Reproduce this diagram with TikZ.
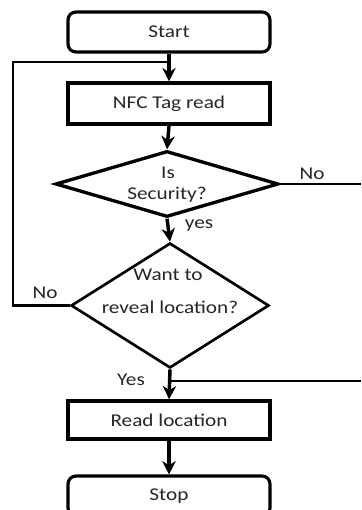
\documentclass[tikz,border=0pt]{standalone}
\usepackage{fontspec}
\setmainfont{Carlito}[FakeStretch=1.18]
\usetikzlibrary{shapes.geometric,arrows.meta}
\begin{document}
\begin{tikzpicture}[x=0.75pt,y=-0.75pt,
  every node/.style={font=\fontsize{13.5pt}{16pt}\selectfont, text=black!85},
  procbox/.style={draw=black, line width=2.6pt, minimum width=151.5pt, inner sep=0pt},
  termbox/.style={procbox, rounded corners=6pt, line width=2.3pt},
  decbox/.style={draw=black, diamond, inner sep=0pt},
  flowarrow/.style={draw=black, line width=2.6pt, -{Stealth[length=10pt,width=10pt]}},
  loopline/.style={draw=black, line width=1.9pt},
  stubline/.style={draw=black, line width=1.5pt},
  lbl/.style={inner sep=0pt}
]
\useasboundingbox (0,0) rectangle (361,510);
\clip (0,0) rectangle (361,510);
\fill[white] (0,0) rectangle (361,510);

\node[termbox, minimum height=30pt] (start) at (169,32) {Start};
\node[procbox, minimum height=30.75pt] (nfc) at (169,103.5) {NFC Tag read};
\node[decbox, line width=2.5pt, minimum width=167.25pt, minimum height=49.5pt] (d1) at (167,184) {};
\node[lbl] (t1a) at (168,173) {Is};
\node[lbl] (t1b) at (167,195) {Security?};
\node[decbox, line width=2pt, minimum width=148.5pt, minimum height=93.75pt] (d2) at (170,305.5) {};
\node[lbl] (t2a) at (168,275) {Want to};
\node[lbl] (t2b) at (170,307) {reveal location?};
\node[procbox, minimum height=28.5pt] (read) at (169,420) {Read location};
\node[termbox, minimum height=30pt] (stop) at (169,496) {Stop};

\node[lbl] (lno1) at (312,174) {No};
\node[lbl] (lyes1) at (199,226) {yes};
\node[lbl] (lno2) at (45,293) {No};
\node[lbl] (lyes2) at (131,380) {Yes};

\coordinate (j1) at (169,62);
\coordinate (lc) at (13,62);
\coordinate (r1) at (361,184);
\coordinate (r2) at (361,381);
\coordinate (j2) at (170,381);

\draw[flowarrow] (start.south) -- (nfc.north);
\draw[flowarrow] (nfc.south) -- (d1.north);
\draw[flowarrow] (d1.south) -- (d2.north);
\draw[flowarrow] (d2.south) -- (read.north);
\draw[flowarrow] (read.south) -- (stop.north);

\draw[loopline] (d2.west) -| (lc) -- (j1);
\draw[stubline] (d1.east) -- (r1);
\draw[stubline] (r2) -- (j2);
\end{tikzpicture}
\end{document}
